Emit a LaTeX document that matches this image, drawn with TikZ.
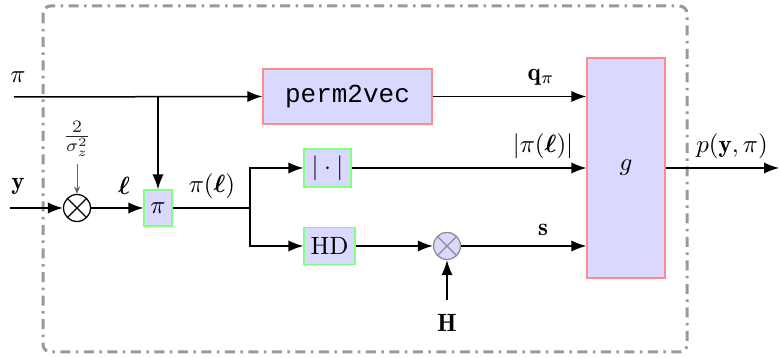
\documentclass[tikz,border=0pt]{standalone}
\usepackage{amsmath,bm}
\usepackage{fontspec}
\newfontfamily\courfont{Liberation Mono}
\usetikzlibrary{arrows.meta}
\begin{document}
\begin{tikzpicture}[x=0.4pt,y=-0.4pt,
  >={Latex[length=6pt,width=4.5pt]},
  conn/.style={line width=0.6pt,->},
  wire/.style={line width=0.6pt},
  redbox/.style={draw=red!45,fill=blue!15,line width=0.5pt,inner sep=0pt},
  greenbox/.style={draw=green!50,fill=blue!15,line width=0.5pt,inner sep=0pt},
  mult/.style={circle,draw,line width=0.5pt,minimum size=10.8pt,inner sep=0pt,
    path picture={\draw[line width=0.5pt] (path picture bounding box.north west)--(path picture bounding box.south east)
      (path picture bounding box.north east)--(path picture bounding box.south west);}},
  lab/.style={inner sep=0pt}
]
\useasboundingbox (0,0) rectangle (779,358);
% frame
\draw[black!40,line width=1.2pt,rounded corners=3pt,dash pattern=on 4pt off 2.2pt on 1pt off 2.2pt]
  (43,6) rectangle (687,352);
% nodes
\node[redbox,minimum width=67.6pt,minimum height=22pt] (p2v) at (347.5,96.5) {\courfont\fontsize{10.4}{12}\selectfont perm2vec};
\node[redbox,minimum width=31.2pt,minimum height=88pt] (g) at (626,168) {$g$};
\node[greenbox,minimum width=11.2pt,minimum height=14.4pt] (pib) at (158,208) {$\pi$};
\node[greenbox,minimum width=18.8pt,minimum height=15.2pt] (abs) at (327.5,168) {$|\cdot|$};
\node[greenbox,minimum width=20.4pt,minimum height=14.8pt] (hd) at (329.5,246) {HD};
\node[mult,fill=white] (m1) at (77,208) {};
\node[mult,draw=black!45,fill=blue!15,path picture={\draw[black!45,line width=0.5pt] (path picture bounding box.north west)--(path picture bounding box.south east)
      (path picture bounding box.north east)--(path picture bounding box.south west);}] (m2) at (447,246) {};
% coordinates
\coordinate (pin) at (14,97);
\coordinate (yin) at (10,208);
\coordinate (br1) at (158,97);
\coordinate (br2) at (250,208);
\coordinate (sig) at (77,164);
\coordinate (hin) at (447,300);
\coordinate (out) at (779,168);
% labels
\node[lab] (lpi) at (18,77) {$\pi$};
\node[lab] (ly) at (18,186) {$\mathbf{y}$};
\node[lab] (lsig) at (77,139) {\color{black!85}$\frac{2}{\sigma_z^2}$};
\node[lab] (lell) at (124,186) {$\bm{\ell}$};
\node[lab] (lpil) at (212,186) {$\pi(\bm{\ell})$};
\node[lab] (lq) at (541,77) {$\mathbf{q}_\pi$};
\node[lab] (labs) at (543,146) {$|\pi(\bm{\ell})|$};
\node[lab] (ls) at (543,230) {$\mathbf{s}$};
\node[lab] (lh) at (447,323) {$\mathbf{H}$};
\node[lab] (lp) at (732,146) {$p(\mathbf{y},\pi)$};
% connectors
\draw[conn] (pin) -- (p2v.west);
\draw[conn] (br1) -- (pib.north);
\draw[conn] (yin) -- (m1.west);
\draw[black!60,line width=0.4pt,-{Stealth[length=3pt,width=2.4pt]}] (sig) -- (m1.north);
\draw[conn] (m1.east) -- (pib.west);
\draw[wire] (pib.east) -- (br2);
\draw[conn] (br2) |- (abs.west);
\draw[conn] (br2) |- (hd.west);
\draw[conn] (p2v.east) -- (p2v.east -| g.west);
\draw[conn] (abs.east) -- (abs.east -| g.west);
\draw[conn] (hd.east) -- (m2.west);
\draw[conn] (m2.east) -- (m2.east -| g.west);
\draw[conn] (hin) -- (m2.south);
\draw[conn] (g.east) -- (out);
\end{tikzpicture}
\end{document}
